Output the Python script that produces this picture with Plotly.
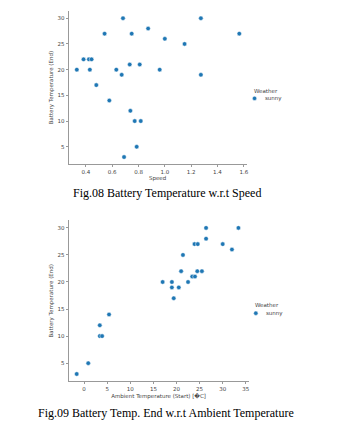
import plotly.graph_objects as go

# Fig.08 data
speed = [0.682, 1.274, 0.873, 0.542, 0.748, 1.566, 1.0, 1.15, 0.382, 0.423, 0.443,
         0.733, 0.809, 0.331, 0.430, 0.631, 0.961, 0.672, 1.274, 0.479, 0.578,
         0.738, 0.771, 0.817, 0.786, 0.690]
temp_end_a = [30, 30, 28, 27, 27, 27, 26, 25, 22, 22, 22, 21, 21, 20, 20, 20, 20,
              19, 19, 17, 14, 12, 10, 10, 5, 3]

# Fig.09 data
ambient = [26.4, 33.4, 26.4, 23.9, 24.6, 30.0, 32.0, 21.4, 21.0, 24.5, 25.5, 23.4,
           24.0, 17.0, 19.0, 22.5, 19.0, 20.5, 19.4, 5.4, 3.4, 3.4, 3.9, 0.9, -1.6]
temp_end_b = [30, 30, 28, 27, 27, 27, 26, 25, 22, 22, 22, 21, 21, 20, 20, 20, 19,
              19, 17, 14, 12, 10, 10, 5, 3]

caption_a = "Fig.08 Battery Temperature w.r.t Speed"
caption_b = "Fig.09 Battery Temp. End w.r.t Ambient Temperature"
legend_title = "Weather"
legend_item = "sunny"

W, H = 352, 426
def px_x(p): return p / W
def px_y(p): return (H - p) / H

blue = "#1f77b4"
marker = dict(color=blue, size=4.5, line=dict(color="white", width=0.5))

fig = go.Figure()
fig.add_trace(go.Scatter(x=speed, y=temp_end_a, mode="markers", marker=marker,
                         name=legend_item, xaxis="x", yaxis="y", showlegend=False))
fig.add_trace(go.Scatter(x=ambient, y=temp_end_b, mode="markers", marker=marker,
                         name=legend_item, xaxis="x2", yaxis="y2", showlegend=False))

tickfont = dict(family="DejaVu Sans", size=5.5, color="#444")
titlefont = dict(family="DejaVu Sans", size=5.5, color="#444")
axcommon = dict(showline=True, linecolor="#999", linewidth=1, ticks="outside",
                ticklen=2, tickcolor="#999", tickwidth=0.7, showgrid=False,
                zeroline=False, tickfont=tickfont, title_font=titlefont)

legfont = dict(family="DejaVu Sans", size=5.5, color="#444")

def legend_block(x_title, y_title, x_mark, y_mark, x_text):
    anns = [
        dict(text=legend_title, x=px_x(x_title), y=px_y(y_title), xref="paper", yref="paper",
             showarrow=False, font=legfont, xanchor="left", yanchor="middle"),
        dict(text=legend_item, x=px_x(x_text), y=px_y(y_mark), xref="paper", yref="paper",
             showarrow=False, font=legfont, xanchor="left", yanchor="middle"),
    ]
    r = 2.2
    shp = dict(type="circle", xref="paper", yref="paper",
               x0=px_x(x_mark - r), x1=px_x(x_mark + r),
               y0=px_y(y_mark + r), y1=px_y(y_mark - r),
               fillcolor=blue, line=dict(color="white", width=0.5))
    return anns, shp

anns_a, shp_a = legend_block(253.5, 90.7, 256, 98.4, 264.5)
anns_b, shp_b = legend_block(254.5, 305.3, 257.3, 313.2, 266)

fig.update_layout(
    width=W, height=H, margin=dict(l=0, r=0, t=0, b=0),
    paper_bgcolor="white", plot_bgcolor="white",
    showlegend=False,
    xaxis=dict(domain=[px_x(69), px_x(248)], range=[0.2685, 1.6215], dtick=0.2,
               tick0=0, tickformat=".1f", anchor="y",
               title=dict(text="Speed", standoff=2), **axcommon),
    yaxis=dict(domain=[px_y(164), px_y(11.3)], range=[1.65, 31.35], dtick=5,
               anchor="x", title=dict(text="Battery Temperature (End)", standoff=3),
               **axcommon),
    xaxis2=dict(domain=[px_x(69), px_x(250)], range=[-3.35, 35.6], dtick=5,
                anchor="y2",
                title=dict(text="Ambient Temperature (Start) [\ufffdC]", standoff=2),
                **axcommon),
    yaxis2=dict(domain=[px_y(381.3), px_y(220.3)], range=[1.65, 31.4], dtick=5,
                anchor="x2", title=dict(text="Battery Temperature (End)", standoff=3),
                **axcommon),
    shapes=[shp_a, shp_b],
    annotations=anns_a + anns_b + [
        dict(text=caption_a, x=px_x(168), y=px_y(193), xref="paper", yref="paper",
             showarrow=False, font=dict(family="Liberation Serif", size=12, color="black"),
             xanchor="center", yanchor="middle"),
        dict(text=caption_b, x=px_x(167), y=px_y(413), xref="paper", yref="paper",
             showarrow=False, font=dict(family="Liberation Serif", size=12, color="black"),
             xanchor="center", yanchor="middle"),
    ],
)

fig.write_html("out.html")
